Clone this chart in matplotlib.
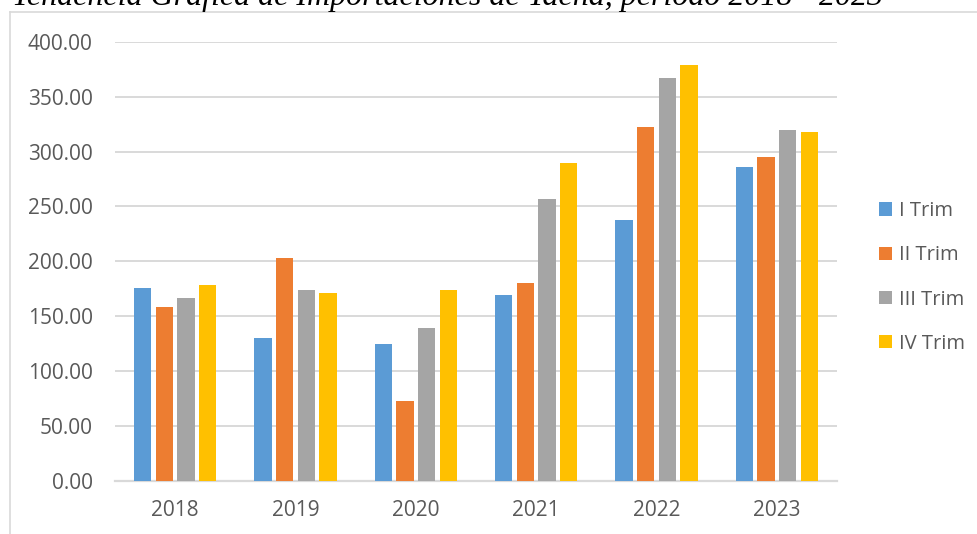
import numpy as np
import matplotlib
matplotlib.use("Agg")
import matplotlib.pyplot as plt
from matplotlib.lines import Line2D
from matplotlib.patches import Patch

# ── Data ──────────────────────────────────────────────────────────────────────
years = ["2018", "2019", "2020", "2021", "2022", "2023"]
series = ["I Trim", "II Trim", "III Trim", "IV Trim"]
trim_1 = [176.1, 130.0, 125.1, 169.5, 237.2, 285.5]
trim_2 = [158.5, 203.2, 72.9, 180.7, 322.3, 294.9]
trim_3 = [167.0, 174.3, 139.1, 256.7, 367.2, 319.2]
trim_4 = [178.9, 171.3, 173.7, 289.1, 379.0, 317.4]
yticks = [0, 50, 100, 150, 200, 250, 300, 350, 400]

COLORS = ["#5B9BD5", "#ED7D31", "#A5A5A5", "#FFC000"]
GRID = "#D9D9D9"
TXT = "#595959"
FONT = "Open Sans"

W, H = 978, 534
fig = plt.figure(figsize=(W / 100, H / 100), dpi=100)
ax = fig.add_axes([115 / W, 1 - 481 / H, 722 / W, (481 - 41.7) / H])

x = np.arange(len(years))
pitch, bw = 0.18, 0.145
for i, (vals, c) in enumerate(zip([trim_1, trim_2, trim_3, trim_4], COLORS)):
    ax.bar(x + (i - 1.5) * pitch, vals, width=bw, color=c, zorder=3)

ax.set_xlim(-0.5, len(years) - 0.5)
ax.set_ylim(0, 400)
ax.set_yticks(yticks)
ax.set_yticklabels([f"{v:.2f}" for v in yticks], fontfamily=FONT, fontsize=15, color=TXT)
ax.set_xticks(x)
ax.set_xticklabels(years, fontfamily=FONT, fontsize=15, color=TXT)
ax.tick_params(axis="both", length=0)
ax.tick_params(axis="y", pad=16)
ax.tick_params(axis="x", pad=14)
ax.grid(axis="y", color=GRID, linewidth=1.4, zorder=0)
for s in ["top", "right", "left"]:
    ax.spines[s].set_visible(False)
ax.spines["bottom"].set_color(GRID)
ax.spines["bottom"].set_linewidth(1.6)

# legend on the right
handles = [Patch(facecolor=c, edgecolor="none") for c in COLORS]
fig.legend(handles, series, loc="center left", bbox_to_anchor=(879 / W, 1 - 277.5 / H),
           frameon=False, prop={"family": FONT, "size": 14.5},
           handlelength=0.66, handleheight=0.66, handletextpad=0.35,
           labelspacing=1.2, borderpad=0, borderaxespad=0, labelcolor=TXT)

# chart frame (cut off at right and bottom)
fig.add_artist(Line2D([9.5 / W, 9.5 / W], [0, 1 - 12 / H], color=GRID, lw=1.2))
fig.add_artist(Line2D([9.5 / W, 1], [1 - 12 / H, 1 - 12 / H], color=GRID, lw=1.2))

# caption above the chart, partly cut off at the top
fig.text(12 / W, 1 - 5 / H, "Tendencia Gráfica de Importaciones de Tacna, período 2018 - 2023",
         fontfamily="Liberation Serif", fontstyle="italic", fontsize=23,
         va="baseline", ha="left", color="black")

fig.savefig("out.png", dpi=100)
